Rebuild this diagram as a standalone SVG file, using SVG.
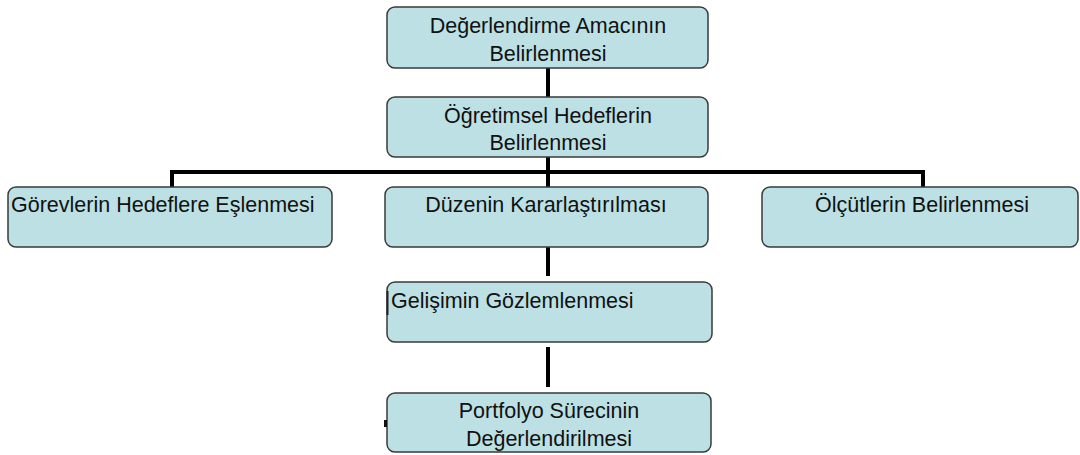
<svg xmlns="http://www.w3.org/2000/svg" width="1080" height="455" viewBox="0 0 1080 455">
<style>
.box{fill:#bce0e4;stroke:#3a3a3a;stroke-width:1.5}
.t{font-family:"Liberation Sans",Arial,sans-serif;font-size:21.5px;fill:#111}
.c{text-anchor:middle}
.ln{stroke:#000;stroke-width:4;fill:none}
</style>
<rect width="1080" height="455" fill="#fff"/>
<g id="connectors">
<line class="ln" x1="548" y1="68" x2="548" y2="97"/>
<line class="ln" x1="548" y1="157" x2="548" y2="187"/>
<polyline class="ln" points="172,187 172,172 923,172 923,187"/>
<line class="ln" x1="548" y1="247" x2="548" y2="276"/>
<line class="ln" x1="548" y1="347" x2="548" y2="387"/>
</g>
<g id="n1"><rect class="box" x="387" y="7" width="321" height="61" rx="8"/>
<text class="t c" x="548" y="33">Değerlendirme Amacının</text>
<text class="t c" x="548" y="61">Belirlenmesi</text></g>
<g id="n2"><rect class="box" x="387" y="97" width="321" height="60" rx="8"/>
<text class="t c" x="548" y="123">Öğretimsel Hedeflerin</text>
<text class="t c" x="548" y="150">Belirlenmesi</text></g>
<g id="n3"><rect class="box" x="8" y="187" width="324" height="60" rx="8"/>
<text class="t" x="11" y="212">Görevlerin Hedeflere Eşlenmesi</text></g>
<g id="n4"><rect class="box" x="385" y="187" width="323" height="60" rx="8"/>
<text class="t c" x="546" y="212">Düzenin Kararlaştırılması</text></g>
<g id="n5"><rect class="box" x="762" y="187" width="316" height="60" rx="8"/>
<text class="t c" x="922" y="212">Ölçütlerin Belirlenmesi</text></g>
<g id="n6"><rect class="box" x="387" y="282" width="325" height="60" rx="8"/>
<line x1="387.5" y1="291" x2="387.5" y2="315" stroke="#222" stroke-width="2"/>
<text class="t" x="391" y="308">Gelişimin Gözlemlenmesi</text></g>
<g id="n7"><rect class="box" x="387" y="393" width="324" height="59" rx="8"/>
<rect x="384" y="420" width="3" height="7" fill="#111"/>
<text class="t c" x="549" y="418">Portfolyo Sürecinin</text>
<text class="t c" x="549" y="446">Değerlendirilmesi</text></g>
</svg>
